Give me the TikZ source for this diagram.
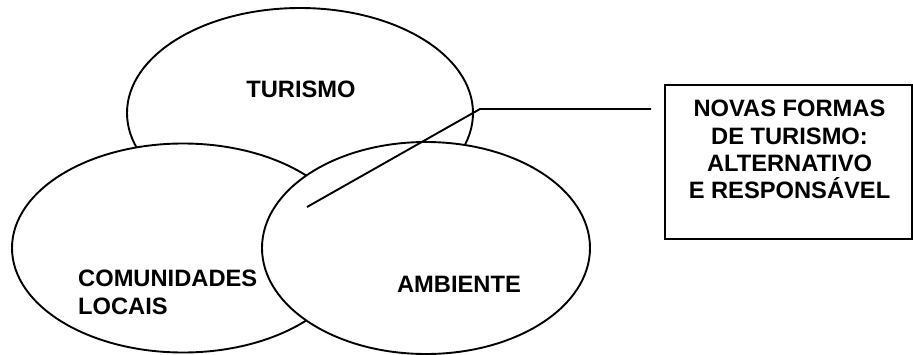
\documentclass[tikz,border=0pt]{standalone}
\usepackage{fontspec}
\setmainfont{Liberation Sans}
\usetikzlibrary{positioning, shapes.geometric}

\tikzset{
  oval/.style={ellipse, draw, fill=white, line width=1.9pt, inner sep=0pt},
  lbl/.style={font=\fontsize{23.7}{27.3}\selectfont\bfseries, inner sep=0pt}
}

\begin{document}
\begin{tikzpicture}[x=1pt, y=-1pt]
\useasboundingbox (0,0) rectangle (913,354);

\coordinate (cTurC) at (300, 113);
\coordinate (cComC) at (183, 248);
\coordinate (cAmbC) at (426, 248);

% the three ovals, last one on top
\foreach \c/\w/\h/\n in 
{   cTurC/346/210/eTur,
    cComC/342/209/eCom,
    cAmbC/328/212/eAmb
}
{
    \node[oval, minimum width=\w pt, minimum height=\h pt] (\n) at (\c) {};
};

\node[lbl, anchor=base] (tTur) at (301, 97) {TURISMO};
\node[lbl, anchor=north west, align=left] (tCom) at (78, 270) {COMUNIDADES\\LOCAIS};
\node[lbl, anchor=base] (tAmb) at (459, 292) {AMBIENTE};

\node[draw, line width=1.9pt, minimum width=247pt, minimum height=154pt, inner sep=0pt] (box) at (788.5, 162) {};
\node[lbl, anchor=north, align=center] (tNovas) at (789.5, 100) {NOVAS FORMAS\\DE TURISMO:\\ALTERNATIVO\\E RESPONSÁVEL};

\coordinate (cTip) at (307, 207);
\coordinate (cBend) at (480, 109);
\coordinate (cEnd) at (651, 109);
\draw[line width=1.9pt] (cTip) -- (cBend) -- (cEnd);

\end{tikzpicture}
\end{document}
